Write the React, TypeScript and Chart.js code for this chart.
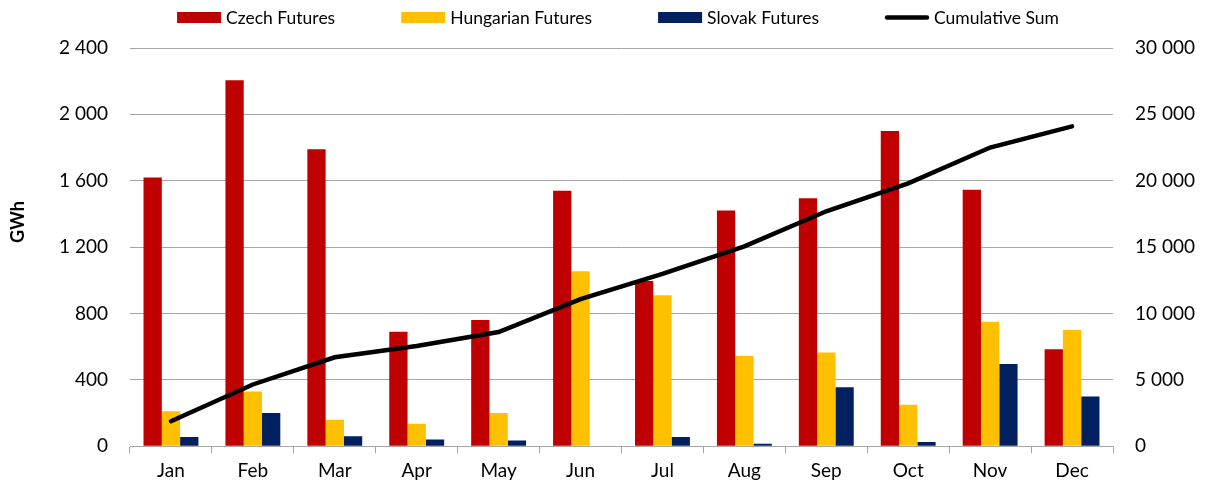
import React, { useEffect, useRef } from "react";
import { Chart, registerables } from "chart.js";

Chart.register(...registerables);

const months = ["Jan", "Feb", "Mar", "Apr", "May", "Jun", "Jul", "Aug", "Sep", "Oct", "Nov", "Dec"];
const czech = [1620, 2205, 1790, 690, 760, 1540, 995, 1420, 1495, 1900, 1545, 585];
const hungarian = [210, 330, 160, 135, 200, 1055, 910, 545, 565, 250, 750, 700];
const slovak = [55, 200, 60, 40, 35, 0, 55, 15, 355, 25, 495, 300];
const cumulative = [1885, 4650, 6700, 7550, 8600, 11080, 12980, 15050, 17700, 19800, 22500, 24100];

const leftTicks = [0, 400, 800, 1200, 1600, 2000, 2400];
const rightTicks = [0, 5000, 10000, 15000, 20000, 25000, 30000];
const yTitle = "GWh";

const FONT = "Lato, 'Open Sans', sans-serif";
const fmt = (v: number) => String(v).replace(/\B(?=(\d{3})+(?!\d))/g, " ");

const legendPlugin = {
  id: "topLegend",
  afterDraw(chart: any) {
    const ctx = chart.ctx;
    const boxW = 44;
    const boxH = 11;
    const textGap = 5;
    const itemGap = 66;
    const y = 17.5;
    ctx.save();
    ctx.font = `17.5px ${FONT}`;
    ctx.textBaseline = "middle";
    const items = chart.data.datasets.map((ds: any) => ({
      label: ds.label,
      color: ds.type === "line" ? ds.borderColor : ds.backgroundColor,
      line: ds.type === "line",
      w: ctx.measureText(ds.label).width,
    }));
    const total = items.reduce((s: number, it: any) => s + boxW + textGap + it.w, 0) + itemGap * (items.length - 1);
    let x = 618 - total / 2;
    for (const it of items) {
      if (it.line) {
        ctx.strokeStyle = it.color;
        ctx.lineWidth = 4.5;
        ctx.lineCap = "round";
        ctx.beginPath();
        ctx.moveTo(x + 2, y);
        ctx.lineTo(x + boxW - 2, y);
        ctx.stroke();
      } else {
        ctx.fillStyle = it.color;
        ctx.fillRect(x, y - boxH / 2, boxW, boxH);
      }
      ctx.fillStyle = "#000";
      ctx.fillText(it.label, x + boxW + textGap, y + 1);
      x += boxW + textGap + it.w + itemGap;
    }
    // rotated y-axis title
    ctx.save();
    ctx.translate(18, 222);
    ctx.rotate(-Math.PI / 2);
    ctx.font = `bold 18px ${FONT}`;
    ctx.textAlign = "center";
    ctx.textBaseline = "middle";
    ctx.fillStyle = "#000";
    ctx.fillText(yTitle, 0, 0);
    ctx.restore();
    ctx.restore();
  },
};

export default function App() {
  const ref = useRef<HTMLCanvasElement | null>(null);
  useEffect(() => {
    document.body.style.margin = "0";
    const ctx = ref.current!.getContext("2d")!;
    const chart = new Chart(ctx, {
      data: {
        labels: months,
        datasets: [
          { type: "bar", label: "Czech Futures", data: czech, backgroundColor: "#C00000", yAxisID: "y", order: 2, barPercentage: 1, categoryPercentage: 0.67 },
          { type: "bar", label: "Hungarian Futures", data: hungarian, backgroundColor: "#FFC000", yAxisID: "y", order: 2, barPercentage: 1, categoryPercentage: 0.67 },
          { type: "bar", label: "Slovak Futures", data: slovak, backgroundColor: "#002060", yAxisID: "y", order: 2, barPercentage: 1, categoryPercentage: 0.67 },
          { type: "line", label: "Cumulative Sum", data: cumulative, borderColor: "#000000", backgroundColor: "#000000", borderWidth: 4.5, pointRadius: 0, tension: 0, yAxisID: "y1", order: 1, borderCapStyle: "round" },
        ],
      } as any,
      options: {
        responsive: false,
        animation: false,
        layout: { padding: { left: 0, right: 0, top: 48, bottom: 0 } },
        plugins: {
          tooltip: { enabled: false },
          legend: { display: false },
        },
        scales: {
          x: {
            grid: { display: true, drawOnChartArea: false, drawTicks: true, tickLength: 7, color: "#A6A6A6", offset: true },
            border: { display: true, color: "#A6A6A6", width: 1 },
            ticks: { font: { family: FONT, size: 19 }, color: "#000", padding: 6 },
          },
          y: {
            position: "left",
            min: 0,
            max: 2400,
            afterBuildTicks: (s: any) => { s.ticks = leftTicks.map((v) => ({ value: v })); },
            afterFit: (s: any) => { s.width = 130; },
            grid: { color: "#A6A6A6", drawTicks: false },
            border: { display: false },
            ticks: { font: { family: FONT, size: 19 }, color: "#000", padding: 22, callback: (v: any) => fmt(v) },
          },
          y1: {
            position: "right",
            min: 0,
            max: 30000,
            afterBuildTicks: (s: any) => { s.ticks = rightTicks.map((v) => ({ value: v })); },
            afterFit: (s: any) => { s.width = 94; },
            grid: { display: false, drawTicks: false },
            border: { display: false },
            ticks: { font: { family: FONT, size: 19 }, color: "#000", padding: 22, callback: (v: any) => fmt(v) },
          },
        },
      },
      plugins: [legendPlugin],
    });
    return () => chart.destroy();
  }, []);
  return (
    <div style={{ width: 1207, height: 488 }}>
      <canvas ref={ref} width={1207} height={488} style={{ display: "block" }} />
    </div>
  );
}
